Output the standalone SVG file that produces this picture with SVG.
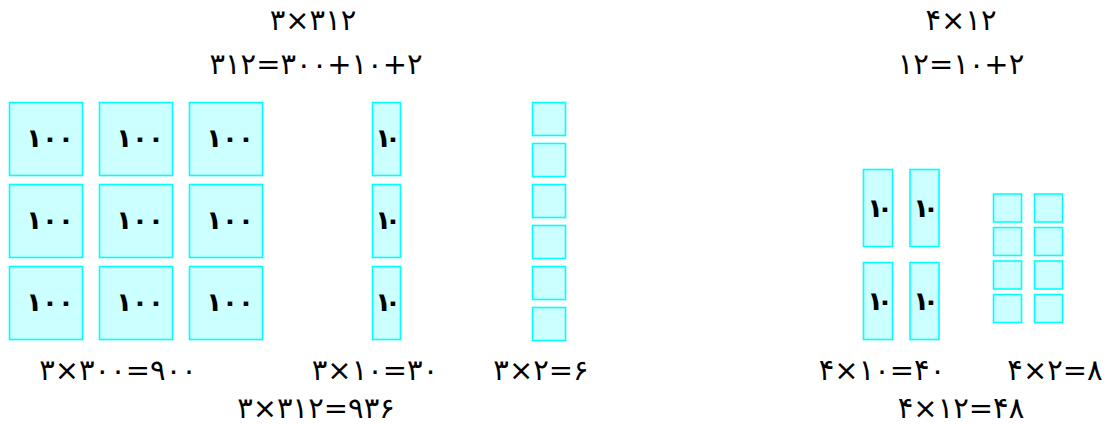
<svg xmlns="http://www.w3.org/2000/svg" width="1110" height="424" viewBox="0 0 1110 424">
<style>
.b{fill:#ccffff;stroke:#00ffff;stroke-width:1.6}
.t{font-family:"DejaVu Sans",sans-serif;font-size:29px;fill:#000;text-anchor:middle;direction:ltr}
.l{font-family:"DejaVu Sans",sans-serif;font-size:26px;font-weight:bold;fill:#000;text-anchor:middle;direction:ltr}
</style>
<rect width="1110" height="424" fill="#fff"/>
<g id="titles">
<text class="t" x="313" y="30">۳×۳۱۲</text>
<text class="t" x="316" y="74">۳۱۲=۳۰۰+۱۰+۲</text>
<text class="t" x="961" y="30">۴×۱۲</text>
<text class="t" x="961" y="74">۱۲=۱۰+۲</text>
</g>
<g id="hundreds">
<rect class="b" x="9.5" y="102.5" width="73" height="73"/>
<rect class="b" x="99.5" y="102.5" width="73" height="73"/>
<rect class="b" x="189.5" y="102.5" width="73" height="73"/>
<rect class="b" x="9.5" y="184.5" width="73" height="73"/>
<rect class="b" x="99.5" y="184.5" width="73" height="73"/>
<rect class="b" x="189.5" y="184.5" width="73" height="73"/>
<rect class="b" x="9.5" y="266.5" width="73" height="73"/>
<rect class="b" x="99.5" y="266.5" width="73" height="73"/>
<rect class="b" x="189.5" y="266.5" width="73" height="73"/>
<text class="l" x="50" y="147">۱۰۰</text>
<text class="l" x="140" y="147">۱۰۰</text>
<text class="l" x="230" y="147">۱۰۰</text>
<text class="l" x="50" y="229">۱۰۰</text>
<text class="l" x="140" y="229">۱۰۰</text>
<text class="l" x="230" y="229">۱۰۰</text>
<text class="l" x="50" y="311">۱۰۰</text>
<text class="l" x="140" y="311">۱۰۰</text>
<text class="l" x="230" y="311">۱۰۰</text>
</g>
<g id="tens">
<rect class="b" x="372.5" y="102.5" width="28" height="73"/>
<rect class="b" x="372.5" y="184.5" width="28" height="73"/>
<rect class="b" x="372.5" y="266.5" width="28" height="73"/>
<text class="l" x="388" y="147">۱<tspan dx="-6">۰</tspan></text>
<text class="l" x="388" y="229">۱<tspan dx="-6">۰</tspan></text>
<text class="l" x="388" y="311">۱<tspan dx="-6">۰</tspan></text>
</g>
<g id="ones">
<rect class="b" x="532.5" y="102.5" width="33" height="33"/>
<rect class="b" x="532.5" y="143.5" width="33" height="33"/>
<rect class="b" x="532.5" y="184.5" width="33" height="33"/>
<rect class="b" x="532.5" y="225.5" width="33" height="33"/>
<rect class="b" x="532.5" y="266.5" width="33" height="33"/>
<rect class="b" x="532.5" y="307.5" width="33" height="33"/>
</g>
<g id="tens-right">
<rect class="b" x="863.5" y="169.5" width="29" height="77"/>
<rect class="b" x="910" y="169.5" width="29" height="77"/>
<rect class="b" x="863.5" y="262.5" width="29" height="77"/>
<rect class="b" x="910" y="262.5" width="29" height="77"/>
<text class="l" x="880" y="217">۱<tspan dx="-6">۰</tspan></text>
<text class="l" x="926" y="217">۱<tspan dx="-6">۰</tspan></text>
<text class="l" x="880" y="310">۱<tspan dx="-6">۰</tspan></text>
<text class="l" x="926" y="310">۱<tspan dx="-6">۰</tspan></text>
</g>
<g id="ones-right">
<rect class="b" x="993.5" y="194" width="28" height="28"/>
<rect class="b" x="1034.5" y="194" width="28" height="28"/>
<rect class="b" x="993.5" y="227.5" width="28" height="28"/>
<rect class="b" x="1034.5" y="227.5" width="28" height="28"/>
<rect class="b" x="993.5" y="261" width="28" height="28"/>
<rect class="b" x="1034.5" y="261" width="28" height="28"/>
<rect class="b" x="993.5" y="294.5" width="28" height="28"/>
<rect class="b" x="1034.5" y="294.5" width="28" height="28"/>
</g>
<g id="results">
<text class="t" x="118" y="380">۳×۳۰۰=۹۰۰</text>
<text class="t" x="375" y="380">۳×۱۰=۳۰</text>
<text class="t" x="541" y="380">۳×۲=۶</text>
<text class="t" x="316" y="418">۳×۳۱۲=۹۳۶</text>
<text class="t" x="882" y="380">۴×۱۰=۴۰</text>
<text class="t" x="1055" y="380">۴×۲=۸</text>
<text class="t" x="961" y="418">۴×۱۲=۴۸</text>
</g>
</svg>
